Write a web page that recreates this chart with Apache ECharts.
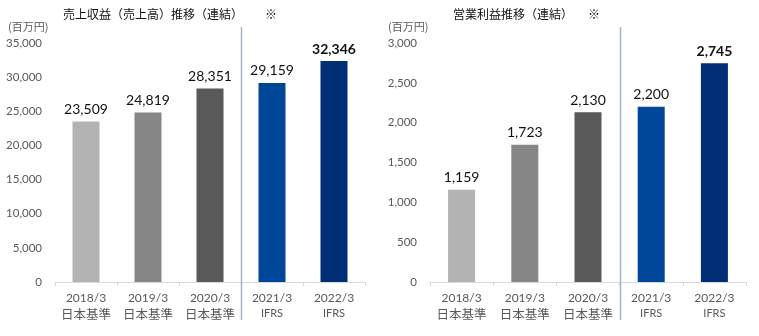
<!DOCTYPE html>
<html>
<head>
<meta charset="utf-8">
<script src="https://cdn.jsdelivr.net/npm/echarts@6/dist/echarts.min.js"></script>
<style>
  html, body { margin: 0; padding: 0; background: #fff; }
  #chart { width: 759px; height: 336px; }
</style>
</head>
<body>
<div id="chart"></div>
<script>
// Fiscal years and accounting standard for each bar
const years = ['2018/3', '2019/3', '2020/3', '2021/3', '2022/3'];
const standards = ['日本基準', '日本基準', '日本基準', 'IFRS', 'IFRS'];

// Consolidated revenue (million yen)
const revenue = [23509, 24819, 28351, 29159, 32346];
// Consolidated operating profit (million yen)
const operatingProfit = [1159, 1723, 2130, 2200, 2745];

// Y-axis ranges
const revenueAxis = { min: 0, max: 35000, interval: 5000 };
const profitAxis = { min: 0, max: 3000, interval: 500 };

const barColors = ['#b3b3b3', '#868686', '#595959', '#00479a', '#002f75'];
const boldLast = [false, false, false, false, true];

const FONT = 'Lato, "Noto Sans CJK JP", sans-serif';
const JP = '"Noto Sans CJK JP", sans-serif';

const chart = echarts.init(document.getElementById('chart'));

function barData(values) {
  return values.map((v, i) => ({
    value: v,
    itemStyle: { color: barColors[i] },
    label: { fontWeight: boldLast[i] ? 'bold' : 'normal' }
  }));
}

const xAxisBase = {
  type: 'category',
  data: years.map((_, i) => i),
  axisLine: { lineStyle: { color: '#d9d9d9', width: 1 } },
  axisTick: { show: true, length: 4, lineStyle: { color: '#d9d9d9' } },
  axisLabel: {
    interval: 0,
    formatter: (v) => '{y|' + years[v] + '}\n' +
      (standards[v] === 'IFRS' ? '{i|' : '{s|') + standards[v] + '}',
    margin: 8,
    rich: {
      y: { fontFamily: FONT, fontSize: 12, color: '#595959', lineHeight: 16 },
      s: { fontFamily: JP, fontSize: 12.5, color: '#595959', lineHeight: 16 },
      i: { fontFamily: FONT, fontSize: 11, color: '#595959', lineHeight: 15 }
    }
  }
};

const yAxisBase = {
  type: 'value',
  splitLine: { show: false },
  axisLine: { show: false },
  axisTick: { show: false },
  axisLabel: {
    fontFamily: FONT, fontSize: 11.5, color: '#595959', margin: 13,
    formatter: (v) => v.toLocaleString('en-US')
  }
};

const labelBase = {
  show: true, position: 'top', distance: 5,
  fontFamily: FONT, fontSize: 14, color: '#111',
  formatter: (p) => p.value.toLocaleString('en-US')
};

chart.setOption({
  animation: false,
  grid: [
    { left: 55, top: 43, width: 310, height: 239 },
    { left: 430, top: 43, width: 316, height: 239 }
  ],
  xAxis: [
    Object.assign({ gridIndex: 0 }, xAxisBase),
    Object.assign({ gridIndex: 1 }, xAxisBase)
  ],
  yAxis: [
    Object.assign({ gridIndex: 0 }, yAxisBase, revenueAxis),
    Object.assign({ gridIndex: 1 }, yAxisBase, profitAxis)
  ],
  series: [
    { type: 'bar', xAxisIndex: 0, yAxisIndex: 0, barWidth: 27, data: barData(revenue), label: labelBase },
    { type: 'bar', xAxisIndex: 1, yAxisIndex: 1, barWidth: 27, data: barData(operatingProfit), label: labelBase }
  ]
});

// Vertical divider between the Japanese-GAAP years and the IFRS years
function dividerX(gridIdx) {
  const a = chart.convertToPixel({ xAxisIndex: gridIdx }, 2);
  const b = chart.convertToPixel({ xAxisIndex: gridIdx }, 3);
  return Math.round((a + b) / 2) + 0.5;
}
const dividers = [0, 1].map((g) => ({
  type: 'line',
  shape: { x1: dividerX(g), y1: 27, x2: dividerX(g), y2: 320 },
  style: { stroke: '#a9b3c8', lineWidth: 1.5 },
  z: 10
}));

const titleStyle = (text) => ({ text: text, fontFamily: JP, fontSize: 12, fontWeight: 'normal', fill: '#111' });
const unitStyle = { text: '(百万円)', fontFamily: JP, fontSize: 11, fontWeight: 'normal', fill: '#595959' };

chart.setOption({
  graphic: [
    { type: 'text', left: 63, top: 8, style: titleStyle('売上収益（売上高）推移（連結）') },
    { type: 'text', left: 265, top: 8, style: titleStyle('※') },
    { type: 'text', left: 8, top: 21, style: unitStyle },
    { type: 'text', left: 453, top: 8, style: titleStyle('営業利益推移（連結）') },
    { type: 'text', left: 588, top: 8, style: titleStyle('※') },
    { type: 'text', left: 388, top: 21, style: unitStyle }
  ].concat(dividers)
});
</script>
</body>
</html>
